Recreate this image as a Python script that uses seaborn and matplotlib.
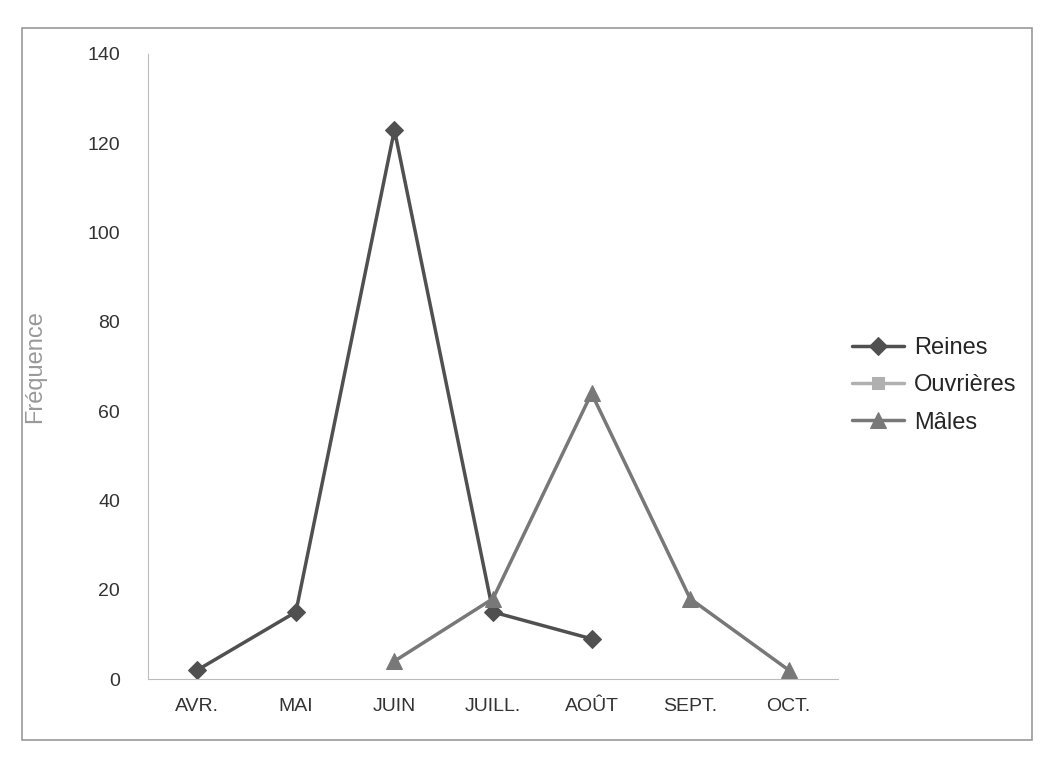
import matplotlib
matplotlib.use("Agg")
import matplotlib.pyplot as plt
import seaborn as sns
import pandas as pd
import numpy as np

months = ["AVR.", "MAI", "JUIN", "JUILL.", "AOÛT", "SEPT.", "OCT."]
reines = [2, 15, 123, 15, 9, np.nan, np.nan]
ouvrieres = [np.nan]*7
males = [np.nan, np.nan, 4, 18, 64, 18, 2]

sns.set_style("white")
plt.rcParams['font.family'] = ['Liberation Sans', 'DejaVu Sans']

fig = plt.figure(figsize=(10.58, 7.67), dpi=100)
ax = fig.add_axes([148/1058, 1-679/767, (838-148)/1058, (679-54)/767])
x = np.arange(len(months))
df = pd.DataFrame({"x": x, "Reines": reines, "Ouvrières": ouvrieres, "Mâles": males})
sns.lineplot(data=df, x="x", y="Reines", ax=ax, color="#505050", lw=2.5, marker="D", ms=9, mec="#505050", label="Reines")
sns.lineplot(data=df, x="x", y="Ouvrières", ax=ax, color="#b0b0b0", lw=2.5, marker="s", ms=9, mec="#b0b0b0", label="Ouvrières")
sns.lineplot(data=df, x="x", y="Mâles", ax=ax, color="#787878", lw=2.5, marker="^", ms=11, mec="#787878", label="Mâles")
ax.set_xlim(-0.5, 6.5)
ax.set_ylim(0, 140)
ax.set_yticks(range(0, 141, 20))
ax.set_xticks(x)
ax.set_xticklabels(months)
ax.tick_params(labelsize=14, colors="#333333", length=0)
ax.tick_params(axis='x', pad=14)
ax.tick_params(axis='y', pad=20)
for s in ["top", "right"]:
    ax.spines[s].set_visible(False)
for s in ["left", "bottom"]:
    ax.spines[s].set_color("#bbbbbb")
ax.set_xlabel("")
ax.set_ylabel("Fréquence", fontsize=17, color="#999999", labelpad=30)
leg = ax.legend(loc="center left", bbox_to_anchor=(0.99, 0.47), frameon=False, fontsize=17,
                handlelength=2.2, labelspacing=0.65, handletextpad=0.4)
fig.patches.append(plt.Rectangle((22/1058, 1-740/767), 1010/1058, 712/767, transform=fig.transFigure, fill=False, edgecolor="#999999", lw=1.2))
fig.savefig("out.png", dpi=100)
